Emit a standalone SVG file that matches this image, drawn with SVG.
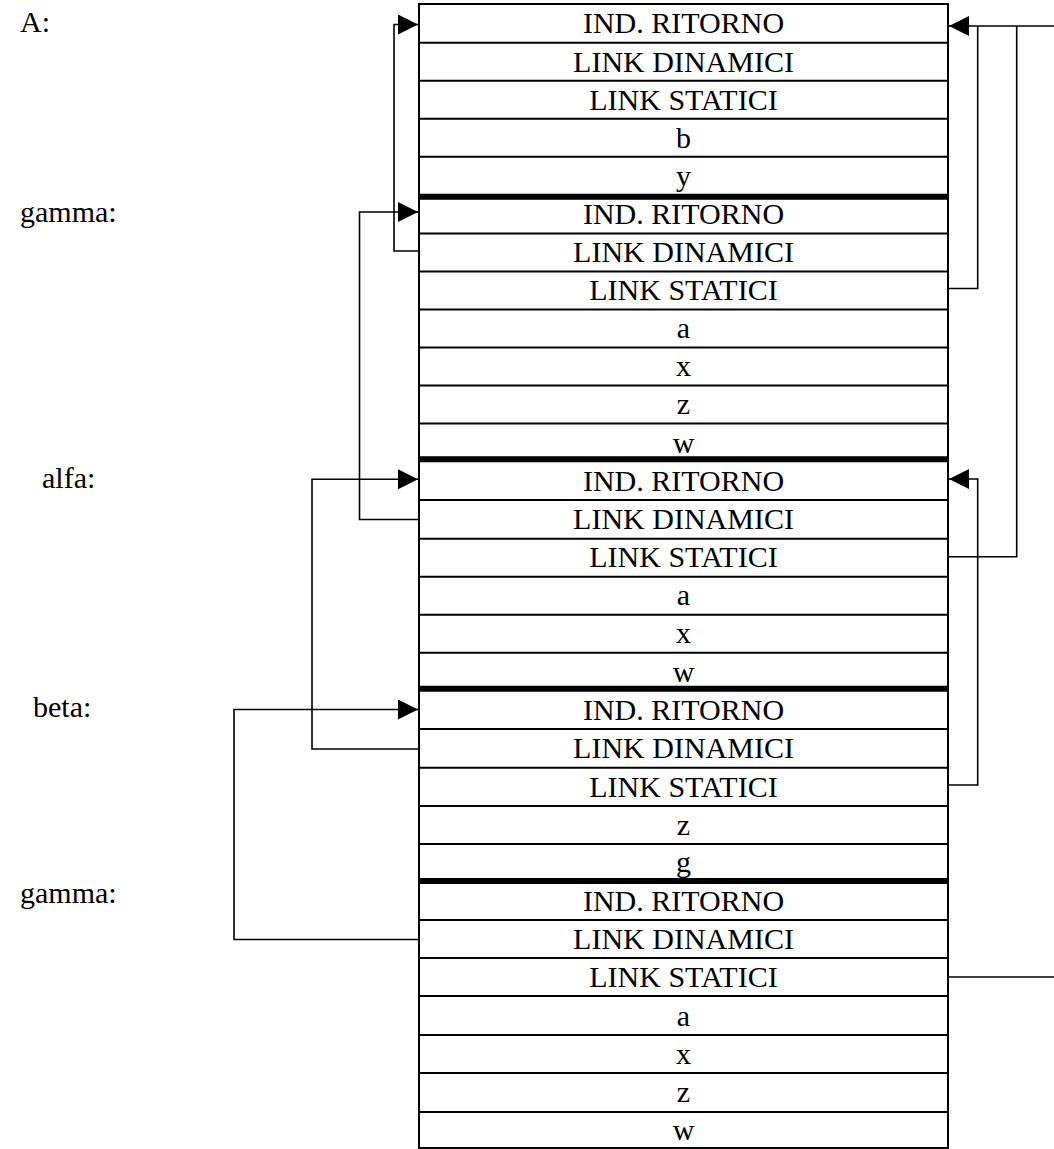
<svg xmlns="http://www.w3.org/2000/svg" width="1054" height="1149" viewBox="0 0 1054 1149">
<style>
.t{font-family:"Liberation Serif","Times New Roman",serif;font-size:30px;fill:#000;text-anchor:middle}
.lbl{font-family:"Liberation Serif","Times New Roman",serif;font-size:30px;fill:#000}
.row{stroke:#000;stroke-width:2;fill:none}
.sep{stroke:#000;stroke-width:6;fill:none}
.con{stroke:#000;stroke-width:1.6;fill:none}
</style>
<defs>
<marker id="ah" markerUnits="userSpaceOnUse" markerWidth="20" markerHeight="20" viewBox="0 0 20 20" refX="20" refY="10" orient="auto">
<path d="M0,0 L20,10 L0,20 Z" fill="#000"/>
</marker>
</defs>
<rect x="0" y="0" width="1054" height="1149" fill="#fff"/>

<g id="labels">
<text class="lbl" x="20" y="32">A:</text>
<text class="lbl" x="20" y="222">gamma:</text>
<text class="lbl" x="42" y="488">alfa:</text>
<text class="lbl" x="33" y="717">beta:</text>
<text class="lbl" x="20" y="903">gamma:</text>
</g>

<g id="frame-A">
<text class="t" x="683.5" y="33">IND. RITORNO</text>
<text class="t" x="683.5" y="71.5">LINK DINAMICI</text>
<text class="t" x="683.5" y="109.5">LINK STATICI</text>
<text class="t" x="683.5" y="147.5">b</text>
<text class="t" x="683.5" y="186">y</text>
<line class="row" x1="419" y1="42.7" x2="948" y2="42.7"/>
<line class="row" x1="419" y1="80.7" x2="948" y2="80.7"/>
<line class="row" x1="419" y1="118.7" x2="948" y2="118.7"/>
<line class="row" x1="419" y1="156.7" x2="948" y2="156.7"/>
</g>

<g id="frame-gamma1">
<text class="t" x="683.5" y="224">IND. RITORNO</text>
<text class="t" x="683.5" y="262">LINK DINAMICI</text>
<text class="t" x="683.5" y="300">LINK STATICI</text>
<text class="t" x="683.5" y="338">a</text>
<text class="t" x="683.5" y="376">x</text>
<text class="t" x="683.5" y="414">z</text>
<text class="t" x="683.5" y="452.5">w</text>
<line class="row" x1="419" y1="233.5" x2="948" y2="233.5"/>
<line class="row" x1="419" y1="271.5" x2="948" y2="271.5"/>
<line class="row" x1="419" y1="309.5" x2="948" y2="309.5"/>
<line class="row" x1="419" y1="347.5" x2="948" y2="347.5"/>
<line class="row" x1="419" y1="385.5" x2="948" y2="385.5"/>
<line class="row" x1="419" y1="423.5" x2="948" y2="423.5"/>
</g>

<g id="frame-alfa">
<text class="t" x="683.5" y="490.5">IND. RITORNO</text>
<text class="t" x="683.5" y="529">LINK DINAMICI</text>
<text class="t" x="683.5" y="567">LINK STATICI</text>
<text class="t" x="683.5" y="605">a</text>
<text class="t" x="683.5" y="643">x</text>
<text class="t" x="683.5" y="681.5">w</text>
<line class="row" x1="419" y1="500" x2="948" y2="500"/>
<line class="row" x1="419" y1="538.7" x2="948" y2="538.7"/>
<line class="row" x1="419" y1="576.7" x2="948" y2="576.7"/>
<line class="row" x1="419" y1="614.7" x2="948" y2="614.7"/>
<line class="row" x1="419" y1="652.7" x2="948" y2="652.7"/>
</g>

<g id="frame-beta">
<text class="t" x="683.5" y="719.5">IND. RITORNO</text>
<text class="t" x="683.5" y="758">LINK DINAMICI</text>
<text class="t" x="683.5" y="796.5">LINK STATICI</text>
<text class="t" x="683.5" y="834.5">z</text>
<text class="t" x="683.5" y="872">g</text>
<line class="row" x1="419" y1="729" x2="948" y2="729"/>
<line class="row" x1="419" y1="767.7" x2="948" y2="767.7"/>
<line class="row" x1="419" y1="806" x2="948" y2="806"/>
<line class="row" x1="419" y1="844" x2="948" y2="844"/>
</g>

<g id="frame-gamma2">
<text class="t" x="683.5" y="910.5">IND. RITORNO</text>
<text class="t" x="683.5" y="948.5">LINK DINAMICI</text>
<text class="t" x="683.5" y="986.5">LINK STATICI</text>
<text class="t" x="683.5" y="1025.5">a</text>
<text class="t" x="683.5" y="1063.5">x</text>
<text class="t" x="683.5" y="1102">z</text>
<text class="t" x="683.5" y="1140">w</text>
<line class="row" x1="419" y1="920" x2="948" y2="920"/>
<line class="row" x1="419" y1="958" x2="948" y2="958"/>
<line class="row" x1="419" y1="996" x2="948" y2="996"/>
<line class="row" x1="419" y1="1035" x2="948" y2="1035"/>
<line class="row" x1="419" y1="1073" x2="948" y2="1073"/>
<line class="row" x1="419" y1="1112" x2="948" y2="1112"/>
</g>

<g id="outline">
<rect class="row" x="419" y="4" width="529" height="1144"/>
<line class="sep" x1="419" y1="196.7" x2="948" y2="196.7"/>
<line class="sep" x1="419" y1="459.3" x2="948" y2="459.3"/>
<line class="sep" x1="419" y1="688.7" x2="948" y2="688.7"/>
<line class="sep" x1="419" y1="881" x2="948" y2="881"/>
</g>

<g id="connectors">
<path class="con" d="M419,251 H394 V24.5 H418" marker-end="url(#ah)"/>
<path class="con" d="M419,519.5 H359.5 V212 H418" marker-end="url(#ah)"/>
<path class="con" d="M419,749 H312 V479.3 H418" marker-end="url(#ah)"/>
<path class="con" d="M419,939.5 H234 V709.5 H418" marker-end="url(#ah)"/>
<path class="con" d="M948,288.5 H977.7 V26"/>
<path class="con" d="M948,556.7 H1016.7 V26"/>
<path class="con" d="M1054,26 H949" marker-end="url(#ah)"/>
<path class="con" d="M948,785 H977.7 V479 H949" marker-end="url(#ah)"/>
<path class="con" d="M948,977 H1054"/>
</g>
</svg>
